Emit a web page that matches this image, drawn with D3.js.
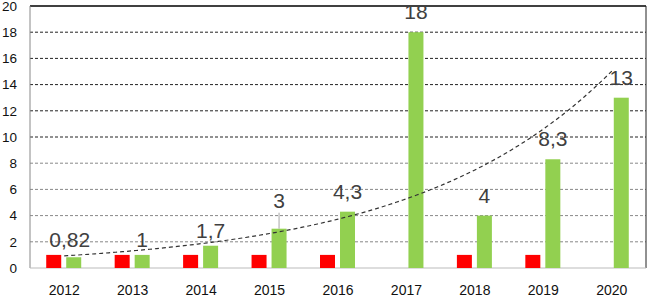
<!DOCTYPE html>
<html><head><meta charset="utf-8">
<script src="https://cdn.jsdelivr.net/npm/d3@7"></script>
<style>body{margin:0;background:#fff}svg{display:block}</style>
</head><body>
<script>
const years = ["2012","2013","2014","2015","2016","2017","2018","2019","2020"];
const redValues = [1,1,1,1,1,null,1,1,null];
const greenValues = [0.82,1,1.7,3,4.3,18,4,8.3,13];
const greenLabels = ["0,82","1","1,7","3","4,3","18","4","8,3","13"];
const labelDx = [-4,0,0,0,0,0,0,0,0];
const labelDy = [3,5,5,-8,0,0,0,0,0];
const yTicks = [0,2,4,6,8,10,12,14,16,18,20];

const W=648,H=298;
const svg=d3.select("body").append("svg").attr("width",W).attr("height",H);
const x=d3.scaleBand().domain(years).range([30,646]);
const y=d3.scaleLinear().domain([0,20]).range([268,6]);
const inner=d3.scaleBand().domain(["red","green"]).range([-18,17]).paddingInner(0.25);
const cx=d=>x(d)+x.bandwidth()/2;

// gridlines
svg.append("g").selectAll("line").data(yTicks.filter(v=>v>0&&v<20)).join("line")
  .attr("x1",30).attr("x2",646).attr("y1",d=>y(d)).attr("y2",d=>y(d))
  .attr("stroke",d=>d>=10?"#222":"#888").attr("stroke-width",1).attr("stroke-dasharray","3,2");
// border top/right
svg.append("line").attr("x1",30).attr("x2",646).attr("y1",y(20)).attr("y2",y(20)).attr("stroke","#000").attr("stroke-width",1.3);
svg.append("line").attr("x1",646).attr("x2",646).attr("y1",y(20)).attr("y2",y(0)).attr("stroke","#222").attr("stroke-width",1);
// axes lines
svg.append("line").attr("x1",30).attr("x2",30).attr("y1",y(20)).attr("y2",y(0)).attr("stroke","#888");
svg.append("line").attr("x1",30).attr("x2",646).attr("y1",y(0)).attr("y2",y(0)).attr("stroke","#bbb");

// y labels
svg.append("g").selectAll("text").data(yTicks).join("text")
  .attr("x",17).attr("y",d=>y(d)).attr("dy","0.35em").attr("text-anchor","end")
  .attr("font-family","Liberation Sans, Arial, sans-serif").attr("font-size",13.5).attr("fill","#111")
  .text(d=>d);
// x labels
svg.append("g").selectAll("text").data(years).join("text")
  .attr("x",d=>cx(d)).attr("y",295).attr("text-anchor","middle")
  .attr("font-family","Liberation Sans, Arial, sans-serif").attr("font-size",14).attr("fill","#111")
  .text(d=>d);

// bars
svg.append("g").selectAll("rect").data(years.map((d,i)=>({d,v:redValues[i]})).filter(o=>o.v!=null)).join("rect")
  .attr("x",o=>cx(o.d)+inner("red")).attr("width",inner.bandwidth())
  .attr("y",o=>y(o.v)).attr("height",o=>y(0)-y(o.v)).attr("fill","#ff0000");
svg.append("g").selectAll("rect").data(years.map((d,i)=>({d,v:greenValues[i]}))).join("rect")
  .attr("x",o=>cx(o.d)+inner("green")).attr("width",inner.bandwidth())
  .attr("y",o=>y(o.v)).attr("height",o=>y(0)-y(o.v)).attr("fill","#92d050");

// exponential trendline fitted to green series (least squares on ln)
const n=greenValues.length;
const lx=d3.range(n), ly=greenValues.map(Math.log);
const mx=d3.mean(lx), my=d3.mean(ly);
const b=d3.sum(lx.map((v,i)=>(v-mx)*(ly[i]-my)))/d3.sum(lx.map(v=>(v-mx)*(v-mx)));
const a=my-b*mx;
const xi=d3.scaleLinear().domain([0,n-1]).range([cx(years[0]),cx(years[n-1])]);
const pts=d3.range(0,n-1+1e-9,0.05).map(t=>[xi(t),y(Math.exp(a+b*t))]);
svg.append("path").attr("d",d3.line()(pts)).attr("fill","none")
  .attr("stroke","#333").attr("stroke-width",1.2).attr("stroke-dasharray","4,3");

// leader line for label "3"
const gc=d=>cx(d)+inner("green")+inner.bandwidth()/2;
svg.append("line").attr("x1",gc("2015")).attr("x2",gc("2015")).attr("y1",y(3)-13+labelDy[3]+5).attr("y2",y(3))
  .attr("stroke","#a6a6a6").attr("stroke-width",1);

// labels
svg.append("g").selectAll("text").data(years).join("text")
  .attr("x",(d,i)=>gc(d)+labelDx[i]).attr("y",(d,i)=>y(greenValues[i])-13+labelDy[i])
  .attr("text-anchor","middle").attr("font-family","Liberation Sans, Arial, sans-serif")
  .attr("font-size",21).attr("fill","#404040").text((d,i)=>greenLabels[i]);
</script>
</body></html>
